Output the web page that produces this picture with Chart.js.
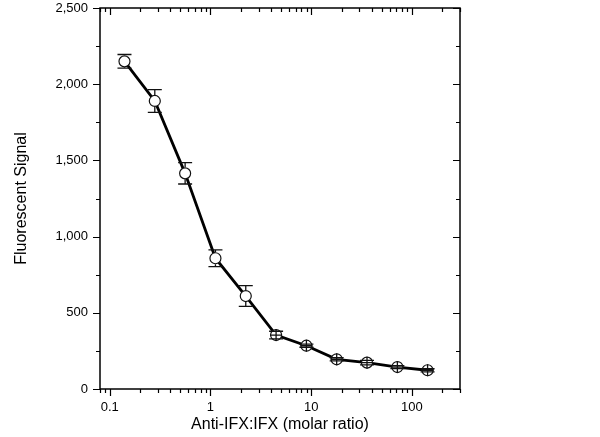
<!DOCTYPE html>
<html>
<head>
<meta charset="utf-8">
<script src="https://cdn.jsdelivr.net/npm/chart.js@4/dist/chart.umd.min.js"></script>
<style>
  html, body { margin: 0; padding: 0; background: #fff; }
</style>
</head>
<body>
<canvas id="myChart" width="600" height="437"></canvas>
<script>
// data
const ratios = [0.14, 0.28, 0.56, 1.12, 2.24, 4.48, 8.96, 17.9, 35.8, 71.7, 143]
const signal = [2150, 1890, 1415, 858, 610, 354, 284, 195, 173, 144, 123]
const signalErr = [45, 75, 70, 55, 68, 25, 10, 10, 15, 10, 10]

const xTicks = [0.1, 1, 10, 100]
const yTicks = [0, 500, 1000, 1500, 2000, 2500]
const xMin = 0.08, xMax = 300
const yMin = 0, yMax = 2500

const font = "'Liberation Sans', Arial, sans-serif"

// minor tick values for the log axis
const xMinor = []
for (let d = 0.01; d <= 100; d *= 10) {
    for (let m = 2; m <= 9; m++) {
        let v = +(m * d).toPrecision(3)
        if (v >= xMin && v <= xMax) xMinor.push(v)
    }
}
const yMinor = yTicks.slice(0, -1).map(v => v + 250)

const framePlugin = {
    id: 'framePlugin',
    afterDatasetsDraw(chart) {
        const ctx = chart.ctx
        const ys = chart.scales.y
        const meta = chart.getDatasetMeta(0)
        ctx.save()
        ctx.strokeStyle = '#111'
        ctx.lineWidth = 1.3
        meta.data.forEach((pt, i) => {
            const x = pt.x, y = pt.y
            const top = ys.getPixelForValue(signal[i] + signalErr[i])
            const bot = ys.getPixelForValue(signal[i] - signalErr[i])
            const r = 6
            ctx.beginPath()
            if (y - top > r - 2) {
                if (y - top > r) {
                    ctx.moveTo(x, top); ctx.lineTo(x, y - r)
                    ctx.moveTo(x, y + r); ctx.lineTo(x, bot)
                }
            } else {
                ctx.moveTo(x, y - r); ctx.lineTo(x, y + r)
                ctx.moveTo(x - r, y); ctx.lineTo(x + r, y)
            }
            ctx.moveTo(x - 7, top); ctx.lineTo(x + 7, top)
            ctx.moveTo(x - 7, bot); ctx.lineTo(x + 7, bot)
            ctx.stroke()
        })
        ctx.restore()
    },
    afterDraw(chart) {
        const ctx = chart.ctx
        const a = chart.chartArea
        const xs = chart.scales.x, ys = chart.scales.y
        ctx.save()
        ctx.strokeStyle = '#000'
        ctx.lineWidth = 1.5
        ctx.strokeRect(a.left, a.top, a.right - a.left, a.bottom - a.top)
        ctx.lineWidth = 1.2
        ctx.beginPath()
        const xt = (v, len) => {
            const px = Math.round(xs.getPixelForValue(v)) + 0.5
            ctx.moveTo(px, a.bottom); ctx.lineTo(px, a.bottom + len)
            ctx.moveTo(px, a.top); ctx.lineTo(px, a.top + len)
        }
        const yt = (v, len) => {
            const py = Math.round(ys.getPixelForValue(v)) + 0.5
            ctx.moveTo(a.left, py); ctx.lineTo(a.left - len, py)
            ctx.moveTo(a.right, py); ctx.lineTo(a.right - len, py)
        }
        xTicks.forEach(v => xt(v, 7))
        xMinor.forEach(v => xt(v, 4))
        yTicks.forEach(v => yt(v, 7))
        yMinor.forEach(v => yt(v, 4))
        ctx.stroke()
        ctx.restore()
    }
}

const ctx = document.getElementById('myChart')
const chart = new Chart(ctx, {
    type: 'line',
    data: {
        datasets: [{
            data: ratios.map((r, i) => ({ x: r, y: signal[i] })),
            borderColor: '#000',
            borderWidth: 2.8,
            pointRadius: 5.5,
            pointBackgroundColor: '#fff',
            pointBorderColor: '#111',
            pointBorderWidth: 1.2,
            tension: 0
        }]
    },
    options: {
        responsive: false,
        animation: false,
        layout: { padding: { top: 8, right: 140, left: 0, bottom: 0 } },
        plugins: { legend: { display: false }, tooltip: { enabled: false } },
        scales: {
            x: {
                type: 'logarithmic',
                min: xMin,
                max: xMax,
                afterBuildTicks: s => { s.ticks = xTicks.map(v => ({ value: v })) },
                afterFit: s => { s.height = 48; s.paddingLeft = 0; s.paddingRight = 0 },
                grid: { display: false, drawTicks: false },
                border: { display: false },
                ticks: {
                    color: '#000',
                    padding: 11,
                    maxRotation: 0,
                    font: { family: font, size: 13 },
                    callback: v => String(v)
                },
                title: {
                    display: true,
                    text: 'Anti-IFX:IFX (molar ratio)',
                    color: '#000',
                    font: { family: font, size: 16 },
                    padding: { top: 0, bottom: 3 }
                }
            },
            y: {
                min: yMin,
                max: yMax,
                afterBuildTicks: s => { s.ticks = yTicks.map(v => ({ value: v })) },
                afterFit: s => { s.width = 100; s.paddingTop = 0; s.paddingBottom = 0 },
                grid: { display: false, drawTicks: false },
                border: { display: false },
                ticks: {
                    color: '#000',
                    padding: 12,
                    font: { family: font, size: 13 },
                    callback: v => v.toLocaleString('en-US')
                },
                title: {
                    display: true,
                    text: 'Fluorescent Signal',
                    color: '#000',
                    font: { family: font, size: 16 },
                    padding: { top: 12, bottom: 0 }
                }
            }
        }
    },
    plugins: [framePlugin]
})
</script>
</body>
</html>
